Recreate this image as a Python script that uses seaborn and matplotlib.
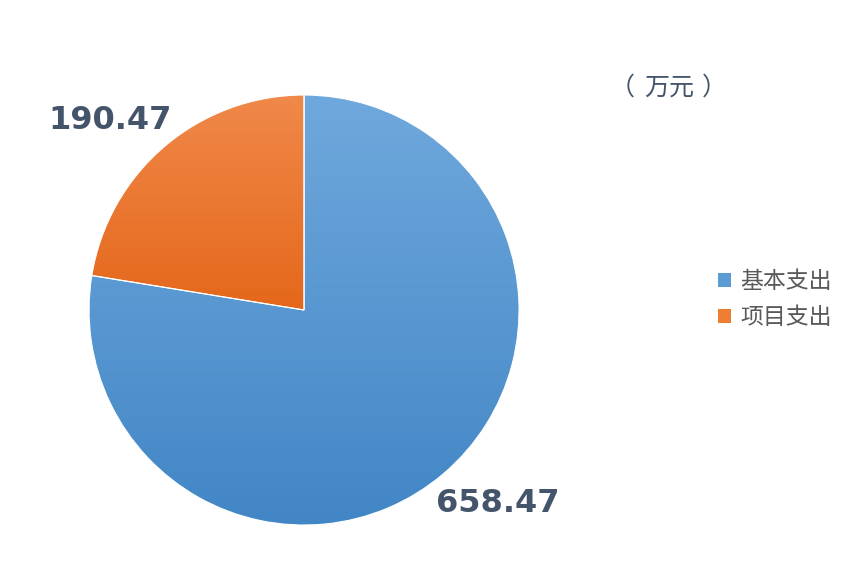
import numpy as np
import matplotlib
matplotlib.use("Agg")
import matplotlib.pyplot as plt
import seaborn as sns
from matplotlib.colors import LinearSegmentedColormap
from matplotlib.patches import Patch

# 数据
categories = ["基本支出", "项目支出"]
values = [658.47, 190.47]
value_labels = ["658.47", "190.47"]
unit_text = "万元"

# 渐变色 (上浅下深)
top_colors = ["#6FA8DC", "#F0894A"]
bottom_colors = ["#4286C6", "#E5671A"]

sns.set_theme(style="white")
plt.rcParams["font.family"] = ["Noto Sans CJK SC", "DejaVu Sans"]

fig = plt.figure(figsize=(8.44, 5.70), dpi=100)
ax = fig.add_axes([0.1055, 0.0789, 0.5095, 0.7544])

wedges, _ = ax.pie(values, startangle=90, counterclock=False, radius=1,
                   colors=sns.color_palette(top_colors),
                   wedgeprops=dict(edgecolor="white", linewidth=0.8))

# 用渐变图像填充每个扇形
for w, c1, c2 in zip(wedges, top_colors, bottom_colors):
    bb = w.get_path().get_extents(w.get_patch_transform())
    cmap = LinearSegmentedColormap.from_list("g", [c2, c1])
    grad = np.linspace(0, 1, 256).reshape(-1, 1)
    im = ax.imshow(grad, cmap=cmap, origin="lower", aspect="auto",
                   extent=[bb.x0, bb.x1, bb.y0, bb.y1], zorder=w.get_zorder())
    im.set_clip_path(w)
    w.set_facecolor("none")
    w.set_zorder(w.get_zorder() + 1)

ax.set_xlim(-1.0, 1.0)
ax.set_ylim(-1.0, 1.0)
ax.set_aspect("equal")
ax.axis("off")

# 数值标签
label_pos = [(0.90, -0.90), (-0.90, 0.88)]
for (x, y), t in zip(label_pos, value_labels):
    ax.text(x, y, t, ha="center", va="center", fontsize=23, fontweight="bold",
            color="#44546A", family="DejaVu Sans")

# 单位（万元）
unit_color = "#44546A"
fig.text(622 / 844, 1 - 88 / 570, "（", ha="center", va="center", fontsize=18,
         color=unit_color)
fig.text(669 / 844, 1 - 88 / 570, unit_text, ha="center", va="center", fontsize=18,
         color=unit_color)
fig.text(714 / 844, 1 - 88 / 570, "）", ha="center", va="center", fontsize=18,
         color=unit_color)

handles = [Patch(facecolor=c, edgecolor="none") for c in ["#5B9BD5", "#ED7D31"]]
fig.legend(handles, categories, loc="center left", bbox_to_anchor=(0.851, 0.4746),
           frameon=False, fontsize=16.5, handlelength=0.55, handleheight=0.55,
           handletextpad=0.4, labelspacing=0.58, labelcolor="#595959",
           borderaxespad=0, borderpad=0)

fig.savefig("out.png", dpi=100, facecolor="white")
